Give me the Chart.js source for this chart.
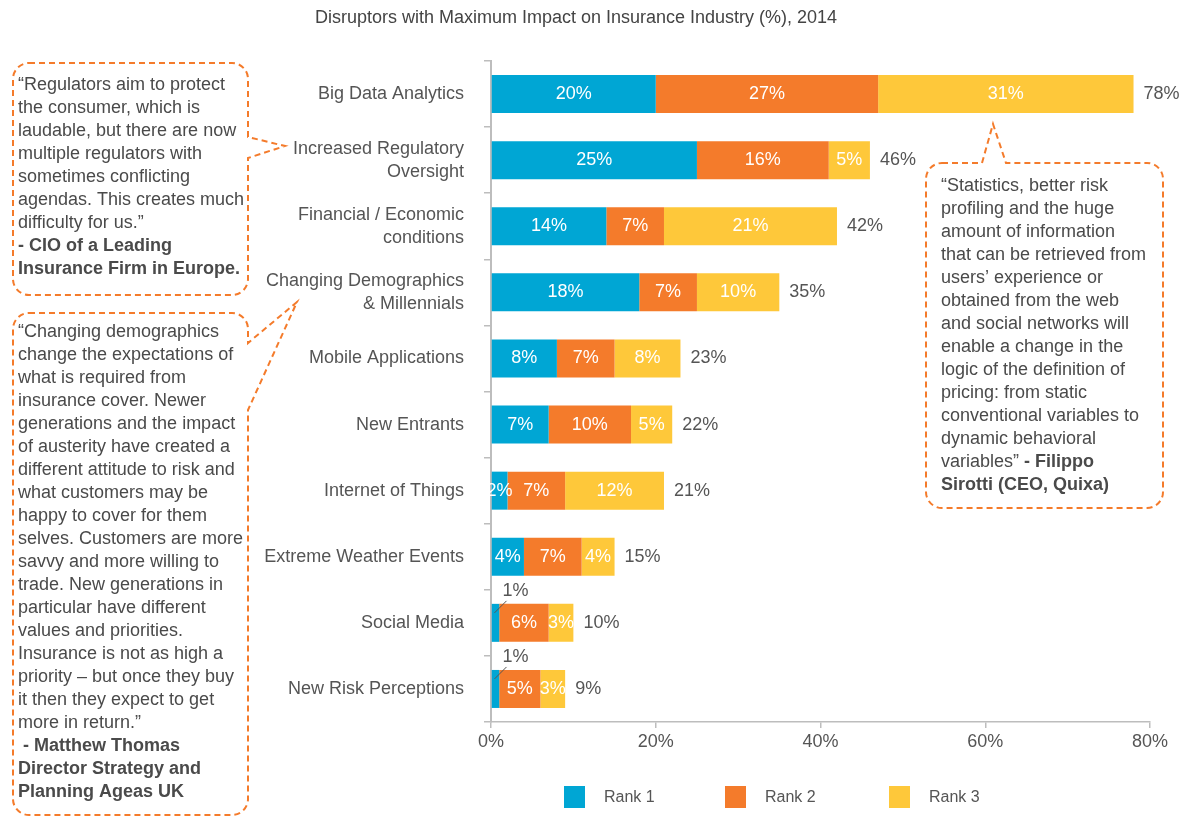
<!DOCTYPE html>
<html>
<head>
<meta charset="utf-8">
<script src="https://cdn.jsdelivr.net/npm/chart.js@4/dist/chart.umd.min.js"></script>
<style>
html, body { margin: 0; padding: 0; background: #fff; }
#wrap { position: relative; width: 1186px; height: 818px; }
</style>
</head>
<body>
<div id="wrap"><canvas id="myChart"></canvas></div>
<script>
var categories = [
    ["Big Data Analytics"],
    ["Increased Regulatory", "Oversight"],
    ["Financial / Economic", "conditions"],
    ["Changing Demographics", "& Millennials"],
    ["Mobile Applications"],
    ["New Entrants"],
    ["Internet of Things"],
    ["Extreme Weather Events"],
    ["Social Media"],
    ["New Risk Perceptions"]
];
var seriesNames = ["Rank 1", "Rank 2", "Rank 3"];
var rank1 = [20, 25, 14, 18, 8, 7, 2, 4, 1, 1];
var rank2 = [27, 16, 7, 7, 7, 10, 7, 7, 6, 5];
var rank3 = [31, 5, 21, 10, 8, 5, 12, 4, 3, 3];
var xTicks = [0, 20, 40, 60, 80];

var colors = ["#00a6d4", "#f47b2b", "#fec83a"];
var textGrey = "#555555";
var axisGrey = "#bdbdbd";
var calloutOrange = "#f47b2b";
var FONT = "'Liberation Sans', Arial, sans-serif";

var title = "Disruptors with Maximum Impact on Insurance Industry (%), 2014";

// quotes shown in the dashed callouts, one entry per line, [text, bold]
var quotes = [
    {
        box: { x: 13, y: 63, w: 235, h: 232 },
        pointer: { side: "right", from: 137, to: 158, tip: [285, 146] },
        textX: 18, firstY: 85,
        lines: [
            [["\u201cRegulators aim to protect", 0]],
            [["the consumer, which is", 0]],
            [["laudable, but there are now", 0]],
            [["multiple regulators with", 0]],
            [["sometimes conflicting", 0]],
            [["agendas. This creates much", 0]],
            [["difficulty for us.\u201d", 0]],
            [["- CIO of a Leading", 1]],
            [["Insurance Firm in Europe.", 1]]
        ]
    },
    {
        box: { x: 13, y: 313, w: 235, h: 502 },
        pointer: { side: "right", from: 343, to: 410, tip: [297, 302] },
        textX: 18, firstY: 332,
        lines: [
            [["\u201cChanging demographics", 0]],
            [["change the expectations of", 0]],
            [["what is required from", 0]],
            [["insurance cover. Newer", 0]],
            [["generations and the impact", 0]],
            [["of austerity have created a", 0]],
            [["different attitude to risk and", 0]],
            [["what customers may be", 0]],
            [["happy to cover for them", 0]],
            [["selves. Customers are more", 0]],
            [["savvy and more willing to", 0]],
            [["trade. New generations in", 0]],
            [["particular have different", 0]],
            [["values and priorities.", 0]],
            [["Insurance is not as high a", 0]],
            [["priority \u2013 but once they buy", 0]],
            [["it then they expect to get", 0]],
            [["more in return.\u201d", 0]],
            [[" - Matthew Thomas", 1]],
            [["Director Strategy and", 1]],
            [["Planning Ageas UK", 1]]
        ]
    },
    {
        box: { x: 926, y: 163, w: 237, h: 345 },
        pointer: { side: "top", from: 982, to: 1006, tip: [993, 124] },
        textX: 941, firstY: 186,
        lines: [
            [["\u201cStatistics, better risk", 0]],
            [["profiling and the huge", 0]],
            [["amount of information", 0]],
            [["that can be retrieved from", 0]],
            [["users\u2019 experience or", 0]],
            [["obtained from the web", 0]],
            [["and social networks will", 0]],
            [["enable a change in the", 0]],
            [["logic of the definition of", 0]],
            [["pricing: from static", 0]],
            [["conventional variables to", 0]],
            [["dynamic behavioral", 0]],
            [["variables\u201d", 0], [" - Filippo", 1]],
            [["Sirotti (CEO, Quixa)", 1]]
        ]
    }
];

function calloutPath(ctx, b, p, r) {
    var x0 = b.x, y0 = b.y, x1 = b.x + b.w, y1 = b.y + b.h;
    ctx.beginPath();
    ctx.moveTo(x0 + r, y0);
    if (p.side === "top") {
        ctx.lineTo(p.from, y0);
        ctx.lineTo(p.tip[0], p.tip[1]);
        ctx.lineTo(p.to, y0);
    }
    ctx.lineTo(x1 - r, y0);
    ctx.arcTo(x1, y0, x1, y0 + r, r);
    if (p.side === "right") {
        ctx.lineTo(x1, p.from);
        ctx.lineTo(p.tip[0], p.tip[1]);
        ctx.lineTo(x1, p.to);
    }
    ctx.lineTo(x1, y1 - r);
    ctx.arcTo(x1, y1, x1 - r, y1, r);
    ctx.lineTo(x0 + r, y1);
    ctx.arcTo(x0, y1, x0, y1 - r, r);
    ctx.lineTo(x0, y0 + r);
    ctx.arcTo(x0, y0, x0 + r, y0, r);
    ctx.closePath();
}

// value labels inside the bars, plus the stacked total after each bar
var barLabels = {
    id: "barLabels",
    afterDatasetsDraw: function(chart) {
        var ctx = chart.ctx;
        ctx.save();
        ctx.font = "18px " + FONT;
        ctx.textBaseline = "middle";
        chart.data.datasets.forEach(function(ds, i) {
            var meta = chart.getDatasetMeta(i);
            meta.data.forEach(function(bar, j) {
                var p = bar.getProps(["x", "y", "base", "height"], true);
                var v = ds.data[j];
                var cx = (p.x + p.base) / 2;
                if (v <= 1) {
                    var top = p.y - p.height / 2;
                    ctx.strokeStyle = "#555";
                    ctx.lineWidth = 1;
                    ctx.beginPath();
                    ctx.moveTo(cx - 1, top + 9);
                    ctx.lineTo(cx + 11, top - 3);
                    ctx.stroke();
                    ctx.fillStyle = textGrey;
                    ctx.textAlign = "center";
                    ctx.fillText(v + "%", cx + 20, top - 13);
                } else {
                    ctx.fillStyle = "#ffffff";
                    ctx.textAlign = "center";
                    ctx.fillText(v + "%", cx, p.y);
                }
            });
        });
        var last = chart.getDatasetMeta(chart.data.datasets.length - 1);
        ctx.fillStyle = textGrey;
        ctx.textAlign = "left";
        last.data.forEach(function(bar, j) {
            var total = rank1[j] + rank2[j] + rank3[j];
            ctx.fillText(total + "%", bar.x + 10, bar.y);
        });
        ctx.restore();
    }
};

// title, legend and the quote callouts
var decorations = {
    id: "decorations",
    afterDraw: function(chart) {
        var ctx = chart.ctx;
        ctx.save();
        ctx.fillStyle = "#444";
        ctx.font = "18px " + FONT;
        ctx.textAlign = "center";
        ctx.textBaseline = "middle";
        ctx.fillText(title, 576, 18);

        // legend
        var lx = [564, 725, 889];
        ctx.font = "16px " + FONT;
        ctx.textAlign = "left";
        seriesNames.forEach(function(name, i) {
            ctx.fillStyle = colors[i];
            ctx.fillRect(lx[i], 786, 21, 22);
            ctx.fillStyle = textGrey;
            ctx.fillText(name, lx[i] + 40, 798);
        });

        // callouts
        quotes.forEach(function(q) {
            ctx.strokeStyle = calloutOrange;
            ctx.lineWidth = 2;
            ctx.setLineDash([6, 4]);
            calloutPath(ctx, q.box, q.pointer, 16);
            ctx.stroke();
            ctx.setLineDash([]);
            ctx.fillStyle = "#4a4a4a";
            ctx.textAlign = "left";
            q.lines.forEach(function(line, k) {
                var x = q.textX;
                var y = q.firstY + k * 23;
                line.forEach(function(seg) {
                    ctx.font = (seg[1] ? "bold " : "") + "18px " + FONT;
                    ctx.fillText(seg[0], x, y);
                    x += ctx.measureText(seg[0]).width;
                });
            });
        });
        ctx.restore();
    }
};

var ctx = document.getElementById("myChart").getContext("2d");
var myChart = new Chart(ctx, {
    type: "bar",
    data: {
        labels: categories,
        datasets: [
            { label: seriesNames[0], data: rank1, backgroundColor: colors[0] },
            { label: seriesNames[1], data: rank2, backgroundColor: colors[1] },
            { label: seriesNames[2], data: rank3, backgroundColor: colors[2] }
        ]
    },
    options: {
        indexAxis: "y",
        responsive: true,
        maintainAspectRatio: false,
        animation: false,
        layout: { padding: { top: 61, right: 36, bottom: 0, left: 0 } },
        datasets: { bar: { barPercentage: 0.575, categoryPercentage: 1 } },
        plugins: {
            legend: { display: false },
            tooltip: { enabled: false }
        },
        scales: {
            x: {
                stacked: true,
                min: xTicks[0],
                max: xTicks[xTicks.length - 1],
                afterBuildTicks: function(scale) {
                    scale.ticks = xTicks.map(function(v) { return { value: v }; });
                },
                afterFit: function(scale) { scale.height = 96; },
                grid: { drawOnChartArea: false, drawTicks: true, tickLength: 6, color: axisGrey, lineWidth: 1.5 },
                border: { display: true, color: axisGrey, width: 1.5 },
                ticks: {
                    padding: 3,
                    color: textGrey,
                    font: { family: FONT, size: 18 },
                    maxRotation: 0,
                    callback: function(v) { return v + "%"; }
                }
            },
            y: {
                stacked: true,
                afterFit: function(scale) { scale.width = 491; },
                grid: { drawOnChartArea: false, drawTicks: true, tickLength: 7, color: axisGrey, lineWidth: 1.5, offset: true },
                border: { display: true, color: axisGrey, width: 2 },
                ticks: {
                    padding: 20,
                    color: textGrey,
                    font: { family: FONT, size: 18, lineHeight: 1.28 }
                }
            }
        }
    },
    plugins: [barLabels, decorations]
});
</script>
</body>
</html>
